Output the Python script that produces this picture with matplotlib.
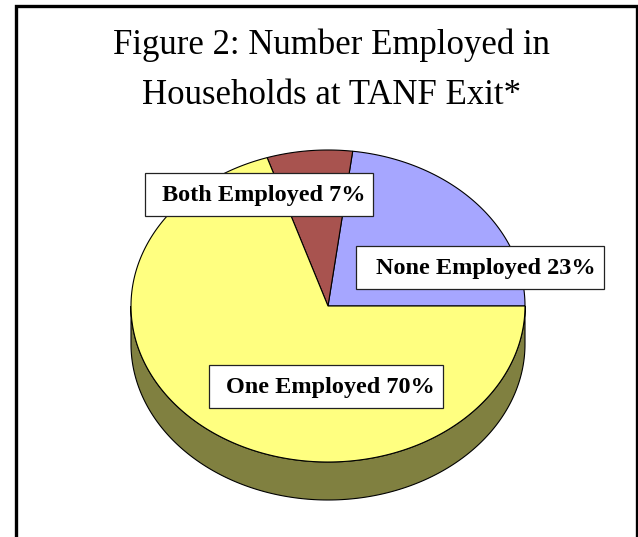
import numpy as np
import matplotlib.pyplot as plt
from matplotlib.patches import Polygon, Rectangle

plt.rcParams['font.family'] = ['Liberation Serif', 'DejaVu Serif']

title_lines = ["Figure 2: Number Employed in", "Households at TANF Exit*"]
labels = ["None Employed", "Both Employed", "One Employed"]
shares = [23, 7, 70]
colors = ["#A6A6FF", "#A8534F", "#FFFF80"]
side_colors = ["#53537F", "#542927", "#808040"]

# layout (pixels, y down)
cx, cy, rx, ry, depth = 328, 306, 197, 156, 38
boxes = [(356, 246, 248, 43), (145, 173, 228, 43), (209, 365, 234, 43)]

fig = plt.figure(figsize=(6.38, 5.37), dpi=100)
ax = fig.add_axes([0, 0, 1, 1])
ax.set_xlim(0, 638)
ax.set_ylim(537, 0)
ax.axis("off")


def ell(t, dy=0):
    return np.column_stack([cx + rx * np.cos(t), cy - ry * np.sin(t) + dy])


edges = np.concatenate([[0], np.cumsum(shares)]) / sum(shares) * 2 * np.pi

# side of the pie (only the front half shows)
for i in range(len(shares)):
    lo, hi = max(edges[i], np.pi), min(edges[i + 1], 2 * np.pi)
    if lo < hi:
        t = np.linspace(lo, hi, 200)
        pts = np.vstack([ell(t), ell(t[::-1], depth)])
        ax.add_patch(Polygon(pts, closed=True, fc=side_colors[i], ec="black", lw=0.8))

# top face
for i in range(len(shares)):
    t = np.linspace(edges[i], edges[i + 1], 300)
    pts = np.vstack([[cx, cy], ell(t)])
    ax.add_patch(Polygon(pts, closed=True, fc=colors[i], ec="black", lw=0.8))

# labels
for i, (x, y, w, h) in enumerate(boxes):
    ax.add_patch(Rectangle((x, y), w, h, fc="white", ec="#222222", lw=0.9))
    ax.text(x + w - 8, y + h / 2 + 1, "%s %d%%" % (labels[i], shares[i]),
            ha="right", va="center", fontsize=17.5, fontweight="bold")

# title
ax.text(331, 54, title_lines[0], ha="center", va="baseline", fontsize=25)
ax.text(331, 104, title_lines[1], ha="center", va="baseline", fontsize=25)

# frame
ax.plot([15.5, 15.5, 636.5, 636.5], [540, 6, 6, 540], color="black", lw=2.4,
        solid_joinstyle="miter")

fig.savefig("out.png", dpi=100)
